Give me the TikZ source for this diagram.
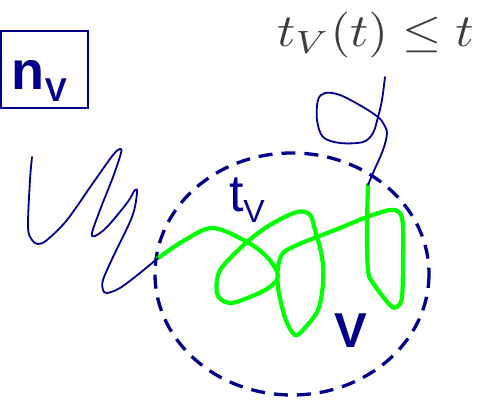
\documentclass[tikz,border=0pt]{standalone}
\usepackage{graphicx}
\usepackage{fontspec}
\newfontfamily\arial{Liberation Sans}
\definecolor{navy}{RGB}{0,0,140}
\definecolor{lime}{RGB}{0,255,0}
\definecolor{mathgray}{RGB}{60,60,60}
\tikzset{
  thinpath/.style={draw=navy, line width=1.8pt, line join=round, line cap=round},
  greenpath/.style={draw=lime, line width=4.2pt, line join=round, line cap=round},
  region/.style={draw=navy, line width=3.3pt, dash pattern=on 14pt off 9pt},
  lbl/.style={inner sep=0pt, outer sep=0pt, text=navy, font=\arial},
}
\begin{document}
\begin{tikzpicture}[x=1pt, y=-1pt]
\useasboundingbox (0,0) rectangle (480,401);
% dashed region V
\draw[region] (292,274) ellipse [x radius=137, y radius=121];
% green path inside V
\draw[greenpath] plot[smooth, tension=0.55] coordinates {
(158,258) (185,240) (213,228) (247,242) (267,257) (278,275) (270,287) (250,297)
(230,303) (218,296) (217,280) (223,266) (247,242) (270,225) (297,212) (310,215)
(315,230) (322,257) (323,283) (318,310) (303,330) (295,335) (287,323) (282,307)
(278,287) (278,267) (283,253) (297,245) (317,237) (340,228) (367,217) (390,210)
(400,213) (403,227) (403,260) (402,297) (397,307) (390,305) (373,283) (368,270)
(367,227) (368,185)};
% blue path before V
\draw[thinpath] plot[smooth, tension=0.55] coordinates {
(32,157) (30,180) (28,227) (32,240) (38,244) (47,240) (67,220) (93,183) (113,155)
(120,149) (121,153) (113,177) (100,210) (92,233) (95,236) (107,227) (127,203)
(135,190) (137,193) (132,217) (113,257) (103,280) (103,290) (107,293) (120,288)
(140,273) (158,258)};
% blue path after V
\draw[thinpath] plot[smooth, tension=0.55] coordinates {
(368,185) (373,173) (383,150) (387,133) (383,123) (378,117) (363,107) (340,95)
(325,93) (318,100) (317,120) (323,137) (340,143) (363,142) (373,133) (378,117)
(382,100) (385,77)};
% n_V box
\draw[navy, line width=2pt] (1,31) rectangle (88,108);
\node[lbl, anchor=base west] (nv) at (12,90)
  {\fontsize{54}{54}\selectfont\bfseries n\raisebox{-12pt}{\fontsize{33}{33}\selectfont V}};
% t_V label
\node[lbl, anchor=base west] (tv) at (229,212)
  {\fontsize{52}{52}\selectfont t\raisebox{-11pt}{\fontsize{32}{32}\selectfont V}};
% V label
\node[lbl, anchor=base west] (vlabel) at (334,347)
  {\fontsize{49}{49}\selectfont\bfseries V};
% formula
\node[inner sep=0pt, anchor=base west, text=mathgray] (formula) at (277,47)
  {\scalebox{5.05}[4.6]{$t_V(t)\le t$}};
\end{tikzpicture}
\end{document}
